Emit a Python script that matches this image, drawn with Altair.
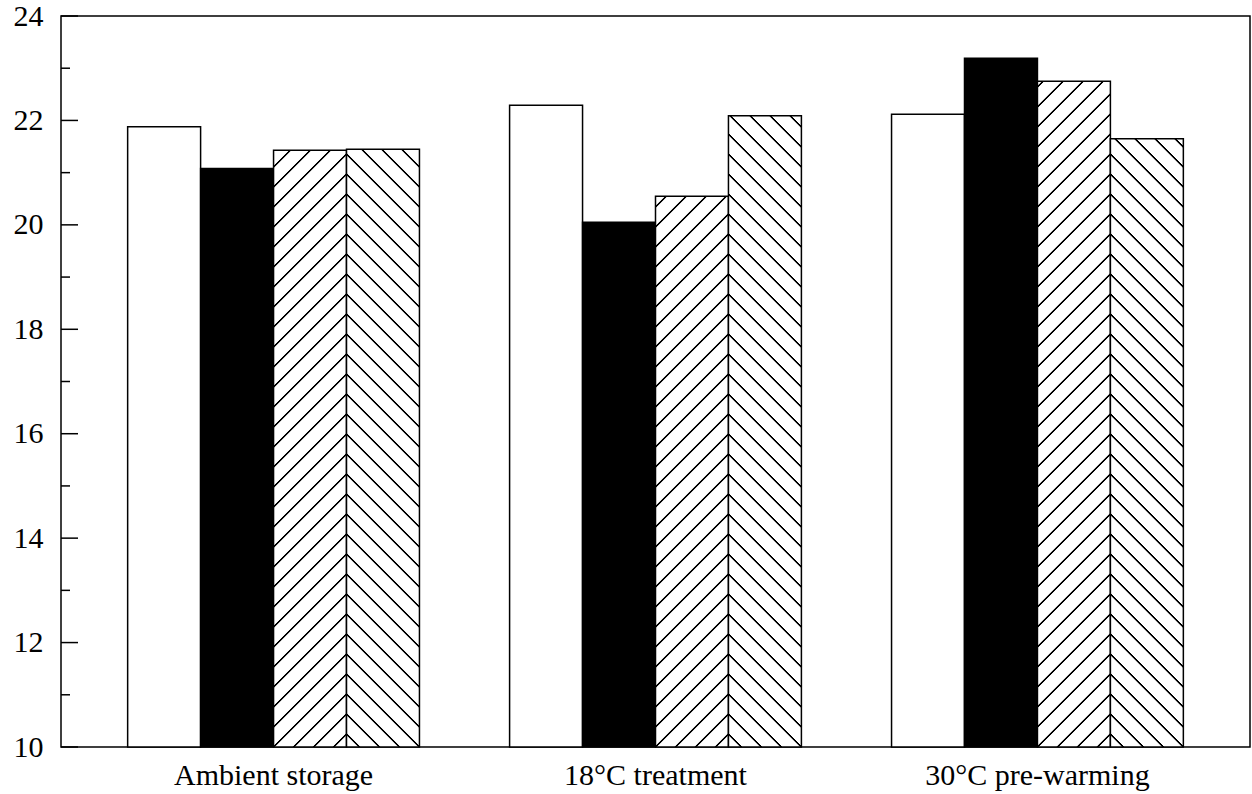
import math
import altair as alt
import pandas as pd

# ---------------- data ----------------
groups = ["Ambient storage", "18°C treatment", "30°C pre-warming"]
series = ["Series 1", "Series 2", "Series 3", "Series 4"]
ambient = [21.88, 21.08, 21.43, 21.45]
treat18 = [22.29, 20.05, 20.55, 22.09]
prewarm30 = [22.12, 23.19, 22.75, 21.65]
major_ticks = [10, 12, 14, 16, 18, 20, 22, 24]
minor_ticks = [11, 13, 15, 17, 19, 21, 23]

rows = []
for g, vals in zip(groups, [ambient, treat18, prewarm30]):
    for s, v in zip(series, vals):
        rows.append({"group": g, "series": s, "value": v})
df = pd.DataFrame(rows)

# ---------------- layout ----------------
W, H = 1189, 731
Y0, Y1 = 10, 24
PI, PO = 0.236, 0.1745
step = W / (len(groups) - PI + 2 * PO)
bandw = step * (1 - PI)
bar_w = bandw / len(series)
PERIOD = 20.0  # horizontal spacing of hatch lines in px


def hatch(v, direction):
    """Linear gradient (bbox units) drawing 45-degree hatch lines on a bar."""
    w = bar_w
    h = (v - Y0) / (Y1 - Y0) * H
    L = w + h
    t = L / (w * w + h * h)
    if direction == "/":
        x1, y1, x2, y2 = 0, 0, t * w, t * h
    else:
        x1, y1, x2, y2 = 1, 0, 1 - t * w, t * h
    stops = [alt.GradientStop(color="white", offset=0)]
    kmin = math.ceil((-3 - h) / PERIOD)
    kmax = math.floor((L + 3 - h) / PERIOD)
    last = 0.0
    for k in range(kmin, kmax + 1):
        c = h + k * PERIOD
        for off, col in [(-1.6, "white"), (-0.7, "black"), (0.7, "black"), (1.6, "white")]:
            o = min(1.0, max(0.0, (c + off) / L))
            o = max(o, last)
            last = o
            stops.append(alt.GradientStop(color=col, offset=o))
    stops.append(alt.GradientStop(color="white", offset=1))
    return alt.Gradient(gradient="linear", stops=stops, x1=x1, y1=y1, x2=x2, y2=y2)


font = "Liberation Serif"

x_enc = alt.X(
    "group:N",
    sort=groups,
    scale=alt.Scale(domain=groups, paddingInner=PI, paddingOuter=PO),
    axis=alt.Axis(title=None, labelAngle=0, ticks=False, domain=False,
                  labelPadding=13, labelFont=font, labelFontSize=30,
                  labelColor="black", labelLimit=0),
)
xo_enc = alt.XOffset("series:N", scale=alt.Scale(domain=series, paddingInner=0, paddingOuter=0))
y_scale = alt.Scale(domain=[Y0, Y1], nice=False, zero=False)
y_axis = alt.Axis(title=None, values=major_ticks, ticks=False, domain=False,
                  grid=False, labelPadding=18, labelFont=font, labelFontSize=30,
                  labelColor="black", labelLimit=0)
y_enc = alt.Y("value:Q", scale=y_scale, axis=y_axis)

base = alt.Chart(df).encode(x=x_enc, xOffset=xo_enc, y=y_enc, y2=alt.datum(Y0))

solid = base.transform_filter(
    alt.FieldOneOfPredicate(field="series", oneOf=series[:2])
).mark_bar(stroke="black", strokeWidth=1.5).encode(
    fill=alt.Fill("series:N", scale=alt.Scale(domain=series[:2], range=["white", "black"]), legend=None)
)

layers = [solid]
for g, vals in zip(groups, [ambient, treat18, prewarm30]):
    for s, v, d in [(series[2], vals[2], "/"), (series[3], vals[3], "\\")]:
        layer = base.transform_filter(
            (alt.datum.group == g) & (alt.datum.series == s)
        ).mark_bar(fill=hatch(v, d), stroke="black", strokeWidth=1.5)
        layers.append(layer)

major = alt.Chart(pd.DataFrame({"value": major_ticks})).mark_rule(
    color="black", strokeWidth=1.5
).encode(y=alt.Y("value:Q", scale=y_scale, axis=y_axis), x=alt.value(0), x2=alt.value(17))

minor = alt.Chart(pd.DataFrame({"value": minor_ticks})).mark_rule(
    color="black", strokeWidth=1.5
).encode(y=alt.Y("value:Q", scale=y_scale, axis=y_axis), x=alt.value(0), x2=alt.value(9))

chart = alt.layer(*layers, major, minor).properties(
    width=W,
    height=H,
    autosize=alt.AutoSizeParams(type="none"),
    padding={"left": 61, "top": 16, "right": 2, "bottom": 47},
    background="white",
).configure_view(stroke="black", strokeWidth=1.5)

chart.save("out.html", embed_options={"renderer": "svg", "actions": False})
